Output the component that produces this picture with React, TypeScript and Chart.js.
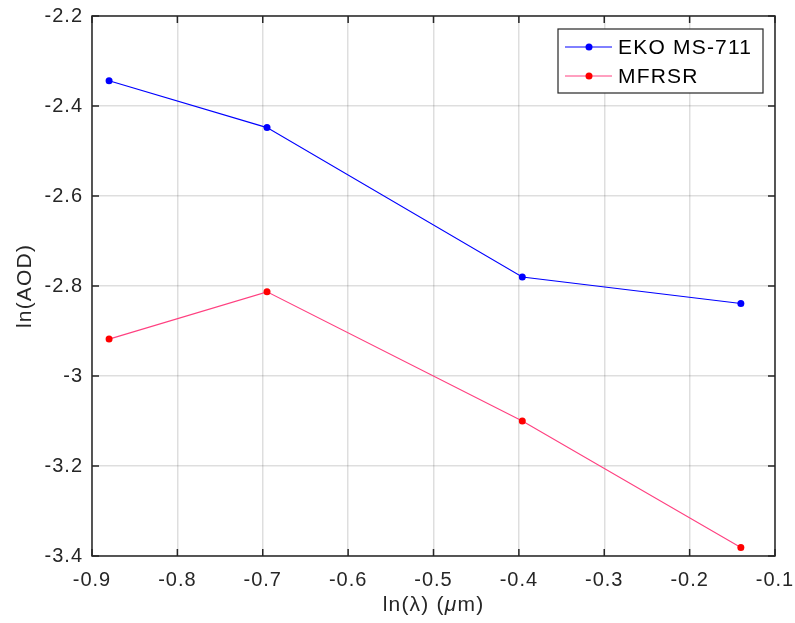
import React, { useEffect, useRef } from "react";
import { Chart, registerables } from "chart.js";

Chart.register(...registerables);

const lnLambda = [-0.88, -0.695, -0.396, -0.14];
const ekoValues = [-2.344, -2.448, -2.78, -2.839];
const mfrsrValues = [-2.918, -2.813, -3.1, -3.381];
const seriesNames = ["EKO MS-711", "MFRSR"];
const lineColors = ["#0000ff", "#ff4080"];
const markerColors = ["#0000ff", "#ff0000"];
const xRange = [-0.9, -0.1];
const yRange = [-3.4, -2.2];

const FONT = '"Liberation Sans", Arial, Helvetica, sans-serif';
const AXIS = "#262626";

const fmt = (v: number) => String(Number(Number(v).toFixed(2)));

const framePlugin = {
  id: "matlabFrame",
  beforeDraw(chart: any) {
    try {
      chart.ctx.letterSpacing = "1px";
    } catch (e) {}
  },
  afterDraw(chart: any) {
    const ctx = chart.ctx;
    const { left, right, top, bottom } = chart.chartArea;
    const xs = chart.scales.x;
    const ys = chart.scales.y;
    ctx.save();
    ctx.strokeStyle = AXIS;
    ctx.lineWidth = 1.5;
    ctx.strokeRect(left, top, right - left, bottom - top);
    const tl = 7;
    ctx.beginPath();
    xs.ticks.forEach((t: any) => {
      const px = xs.getPixelForValue(t.value);
      ctx.moveTo(px, bottom);
      ctx.lineTo(px, bottom - tl);
      ctx.moveTo(px, top);
      ctx.lineTo(px, top + tl);
    });
    ys.ticks.forEach((t: any) => {
      const py = ys.getPixelForValue(t.value);
      ctx.moveTo(left, py);
      ctx.lineTo(left + tl, py);
      ctx.moveTo(right, py);
      ctx.lineTo(right - tl, py);
    });
    ctx.stroke();

    ctx.fillStyle = AXIS;
    try {
      ctx.letterSpacing = "1.2px";
    } catch (e) {}
    ctx.textBaseline = "alphabetic";
    const normal = `21px ${FONT}`;
    const italic = `italic 21px ${FONT}`;
    const parts: [string, string][] = [
      ["ln(λ) (", normal],
      ["μ", italic],
      ["m)", normal],
    ];
    let total = 0;
    parts.forEach(([s, f]) => {
      ctx.font = f;
      total += ctx.measureText(s).width;
    });
    let x = (left + right) / 2 - total / 2;
    ctx.textAlign = "left";
    parts.forEach(([s, f]) => {
      ctx.font = f;
      ctx.fillText(s, x, 611);
      x += ctx.measureText(s).width;
    });

    ctx.save();
    ctx.translate(31, (top + bottom) / 2);
    ctx.rotate(-Math.PI / 2);
    ctx.font = normal;
    ctx.textAlign = "center";
    ctx.fillText("ln(AOD)", 0, 0);
    ctx.restore();

    // legend
    try {
      ctx.letterSpacing = "1.2px";
    } catch (e) {}
    const bw = 205;
    const bh = 64;
    const bx = right - 12 - bw;
    const by = top + 13;
    ctx.fillStyle = "#ffffff";
    ctx.fillRect(bx, by, bw, bh);
    ctx.strokeStyle = AXIS;
    ctx.lineWidth = 1.2;
    ctx.strokeRect(bx, by, bw, bh);
    const rows = [by + 18, by + 47];
    seriesNames.forEach((name, i) => {
      const ry = rows[i];
      ctx.strokeStyle = lineColors[i];
      ctx.lineWidth = 1;
      ctx.beginPath();
      ctx.moveTo(bx + 7, ry);
      ctx.lineTo(bx + 54, ry);
      ctx.stroke();
      ctx.fillStyle = markerColors[i];
      ctx.beginPath();
      ctx.arc(bx + 31, ry, 3.5, 0, Math.PI * 2);
      ctx.fill();
      ctx.fillStyle = "#000000";
      ctx.font = `21px ${FONT}`;
      ctx.textAlign = "left";
      ctx.textBaseline = "middle";
      ctx.fillText(name, bx + 60, ry + 1);
    });
    ctx.restore();
  },
};

export default function App() {
  const ref = useRef<HTMLCanvasElement | null>(null);
  useEffect(() => {
    if (!ref.current) return;
    const mk = (vals: number[]) => lnLambda.map((x, i) => ({ x, y: vals[i] }));
    const chart = new Chart(ref.current, {
      type: "line",
      data: {
        datasets: [ekoValues, mfrsrValues].map((vals, i) => ({
          label: seriesNames[i],
          data: mk(vals),
          borderColor: lineColors[i],
          backgroundColor: markerColors[i],
          pointBackgroundColor: markerColors[i],
          pointBorderColor: markerColors[i],
          pointRadius: 3.5,
          pointBorderWidth: 0,
          borderWidth: 1.1,
          tension: 0,
          fill: false,
        })),
      },
      options: {
        animation: false,
        responsive: true,
        maintainAspectRatio: false,
        layout: { padding: { left: 0, top: 16, right: 20, bottom: 0 } },
        plugins: {
          legend: { display: false },
          tooltip: { enabled: false },
        },
        scales: {
          x: {
            type: "linear",
            min: xRange[0],
            max: xRange[1],
            ticks: {
              stepSize: 0.1,
              color: AXIS,
              font: { family: FONT, size: 20 },
              padding: 12,
              maxRotation: 0,
              autoSkip: false,
              callback: (v: any) => fmt(v),
            },
            grid: { color: "rgba(0,0,0,0.13)", lineWidth: 1.5, drawTicks: false },
            border: { display: false },
            afterFit: (s: any) => {
              s.height = 67;
              s.paddingLeft = 0;
              s.paddingRight = 0;
            },
          },
          y: {
            type: "linear",
            min: yRange[0],
            max: yRange[1],
            ticks: {
              stepSize: 0.2,
              color: AXIS,
              font: { family: FONT, size: 20 },
              padding: 9,
              autoSkip: false,
              callback: (v: any) => fmt(v),
            },
            grid: { color: "rgba(0,0,0,0.13)", lineWidth: 1.5, drawTicks: false },
            border: { display: false },
            afterFit: (s: any) => {
              s.width = 92;
              s.paddingTop = 0;
              s.paddingBottom = 0;
            },
          },
        },
      },
      plugins: [framePlugin],
    });
    return () => chart.destroy();
  }, []);
  return (
    <div style={{ position: "absolute", left: 0, top: 0, width: 795, height: 623, background: "#fff" }}>
      <canvas ref={ref} />
    </div>
  );
}
